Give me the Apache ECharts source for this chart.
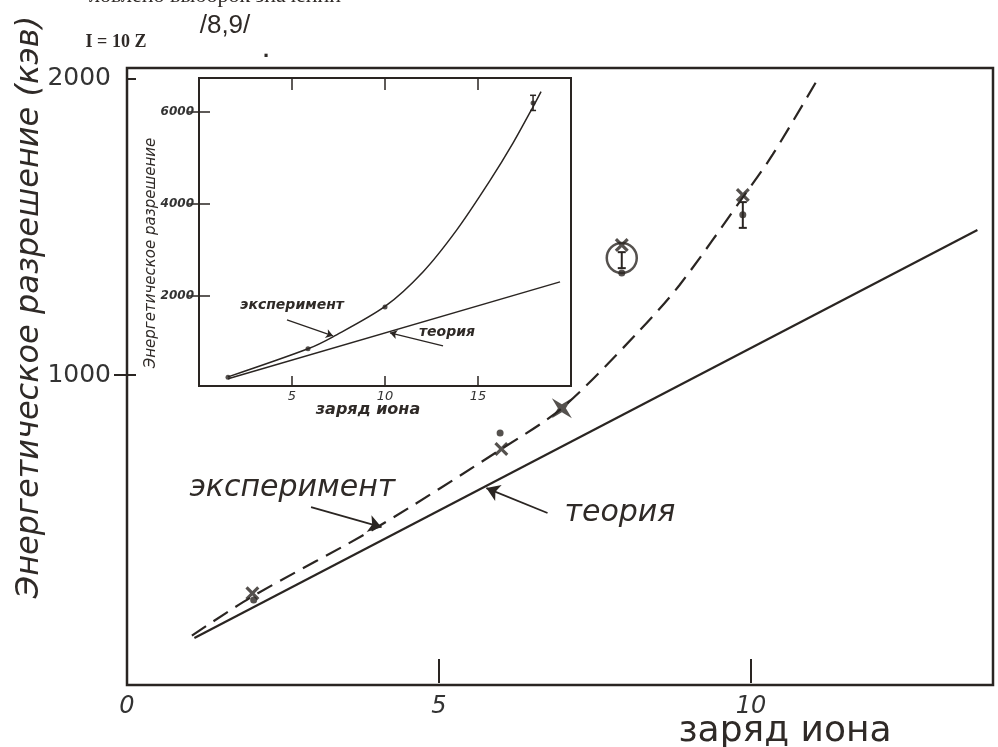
<!DOCTYPE html>
<html><head><meta charset="utf-8">
<script src="https://cdn.jsdelivr.net/npm/echarts@6/dist/echarts.min.js"></script>
<style>html,body{margin:0;padding:0;background:#fff}#c{width:998px;height:747px}</style>
</head><body><div id="c"></div>
<script>
// ---------- main chart data ----------
const theoryZ = [1.08, 13.63];
const theoryE = [112, 1490];
const expZ = [1.04, 2.01, 4.04, 6.0, 6.97, 8.17, 8.86, 9.87, 10.35, 11.08];
const expE = [120, 252, 490, 750, 888, 1140, 1305, 1600, 1745, 2003];
const crossZ = [2.01, 6.0, 7.93, 9.87];
const crossE = [263, 750, 1439, 1608];
const dotZ = [2.03, 5.98, 7.93, 9.87];
const dotE = [240, 804, 1345, 1541];
const starZ = [6.97];
const starE = [888];
const ringZ = [7.93];
const ringE = [1395];
const errZ = [7.93, 9.87];
const errLo = [1361, 1497];
const errHi = [1415, 1584];
const mainXLabels = [0, 5, 10];
const mainXTicks = [5, 10];
const mainYLabels = [1000, 2000];
// ---------- inset data ----------
const inTheoryZ = [1.56, 19.41];
const inTheoryE = [196, 2304];
const inExpZ = [1.56, 5.86, 7.2, 10.0, 12.04, 13.87, 15.65, 16.88, 17.96, 18.39];
const inExpE = [239, 850, 1110, 1770, 2520, 3440, 4510, 5320, 6110, 6440];
const inDotZ = [1.56, 5.86, 10.0, 17.96];
const inDotE = [230, 848, 1755, 6190];
const inErrZ = [17.96];
const inErrLo = [6030];
const inErrHi = [6360];
const inXTicks = [5, 10, 15];
const inYTicks = [2000, 4000, 6000];
// ---------- annotations (data coordinates) ----------
const mainNoteText = ['эксперимент', 'теория'];
const mainNoteAt = [[2.65, 618], [7.9, 534]];
const mainArrows = [[[2.95, 554], [4.08, 486]], [[6.74, 534], [5.76, 618]]];
const inNoteText = ['эксперимент', 'теория'];
const inNoteAt = [[5.0, 1783], [13.33, 1196]];
const inArrows = [[[4.73, 1478], [7.2, 1130]], [[13.12, 913], [10.27, 1196]]];

const INK = '#2a2522';
const zip = (a, b) => a.map((v, i) => [v, b[i]]);
const XPATH = 'path://M0,1.6L1.6,0L5,3.4L8.4,0L10,1.6L6.6,5L10,8.4L8.4,10L5,6.6L1.6,10L0,8.4L3.4,5Z';
const STAR = 'path://M0,0L10,6L20,0L14,10L20,20L10,14L0,20L6,10Z';
const plain = v => String(v);

function errItem(params, api) {
  const x = api.value(0), lo = api.value(1), hi = api.value(2);
  const a = api.coord([x, lo]), b = api.coord([x, hi]);
  const small = params.seriesName === 'inErr';
  const w = small ? 3 : 4;
  const st = { stroke: INK, lineWidth: small ? 1.5 : 2 };
  return { type: 'group', children: [
    { type: 'line', shape: { x1: a[0], y1: a[1], x2: b[0], y2: b[1] }, style: st },
    { type: 'line', shape: { x1: a[0] - w, y1: a[1], x2: a[0] + w, y2: a[1] }, style: st },
    { type: 'line', shape: { x1: b[0] - w, y1: b[1], x2: b[0] + w, y2: b[1] }, style: st }
  ]};
}

function arrowData(list) {
  return list.map(p => [{ coord: p[0] }, { coord: p[1] }]);
}

const chart = echarts.init(document.getElementById('c'), null, { renderer: 'canvas' });

const baseX = { type: 'value', splitLine: { show: false }, axisLine: { show: false } };

const option = {
  backgroundColor: '#ffffff',
  animation: false,
  grid: [
    { left: 127, right: 5, top: 68, bottom: 62, show: true, borderColor: INK, borderWidth: 2.5, backgroundColor: 'transparent' },
    { left: 199, right: 427, top: 78, bottom: 361, show: true, borderColor: INK, borderWidth: 2, backgroundColor: 'transparent' }
  ],
  xAxis: [
    Object.assign({}, baseX, { gridIndex: 0, position: 'bottom', min: 0, max: 13.88,
      axisTick: { show: true, inside: true, length: 12, customValues: mainXTicks, lineStyle: { color: INK, width: 2 } },
      axisLabel: { customValues: mainXLabels, formatter: plain, margin: 10, fontSize: 24, fontStyle: 'italic', fontFamily: 'DejaVu Sans', color: '#333' } }),
    Object.assign({}, baseX, { gridIndex: 0, position: 'top', min: 0, max: 13.88,
      axisTick: { show: true, inside: true, length: 12, customValues: mainXTicks, lineStyle: { color: INK, width: 2 } },
      axisLabel: { show: false } }),
    Object.assign({}, baseX, { gridIndex: 1, position: 'bottom', min: 0, max: 20,
      axisTick: { show: true, inside: true, length: 10, customValues: inXTicks, lineStyle: { color: INK, width: 1.5 } },
      axisLabel: { customValues: inXTicks, formatter: plain, margin: 4, fontSize: 13, fontStyle: 'italic', fontFamily: 'DejaVu Sans', color: '#333' } }),
    Object.assign({}, baseX, { gridIndex: 1, position: 'top', min: 0, max: 20,
      axisTick: { show: true, inside: true, length: 12, customValues: inXTicks, lineStyle: { color: INK, width: 1.5 } },
      axisLabel: { show: false } })
  ],
  yAxis: [
    Object.assign({}, baseX, { gridIndex: 0, position: 'left', min: -47, max: 2037,
      axisTick: { show: true, inside: true, length: 9, customValues: mainYLabels, lineStyle: { color: INK, width: 2 } },
      axisLabel: { customValues: mainYLabels, formatter: plain, margin: 16, fontSize: 25, fontFamily: 'DejaVu Sans', color: '#333' } }),
    Object.assign({}, baseX, { gridIndex: 0, position: 'right', min: -47, max: 2037,
      axisTick: { show: true, inside: true, length: 13, customValues: [1000], lineStyle: { color: INK, width: 2 } },
      axisLabel: { show: false } }),
    Object.assign({}, baseX, { gridIndex: 1, position: 'left', min: 40, max: 6736,
      axisTick: { show: true, inside: true, length: 11, customValues: inYTicks, lineStyle: { color: INK, width: 1.5 } },
      axisLabel: { customValues: inYTicks, formatter: plain, margin: 5, fontSize: 12, fontStyle: 'italic', fontWeight: 'bold', fontFamily: 'DejaVu Sans', color: '#333' } }),
    Object.assign({}, baseX, { gridIndex: 1, position: 'right', min: 40, max: 6736,
      axisTick: { show: true, inside: true, length: 11, customValues: inYTicks, lineStyle: { color: INK, width: 1.5 } },
      axisLabel: { show: false } })
  ],
  series: [
    { name: 'theory', type: 'line', xAxisIndex: 0, yAxisIndex: 0, data: zip(theoryZ, theoryE), showSymbol: false,
      lineStyle: { color: INK, width: 2.2 },
      markLine: { silent: true, symbol: ['none', 'arrow'], symbolSize: 13, label: { show: false },
        lineStyle: { color: INK, width: 1.8, type: 'solid' }, data: arrowData(mainArrows) } },
    { name: 'experiment', type: 'line', xAxisIndex: 0, yAxisIndex: 0, data: zip(expZ, expE), showSymbol: false,
      smooth: 0.3,
      lineStyle: { color: INK, width: 2.2, type: [17, 9] } },
    { name: 'cross', type: 'scatter', xAxisIndex: 0, yAxisIndex: 0, data: zip(crossZ, crossE), symbol: XPATH, symbolSize: 14,
      itemStyle: { color: INK } },
    { name: 'dot', type: 'scatter', xAxisIndex: 0, yAxisIndex: 0, data: zip(dotZ, dotE), symbol: 'circle', symbolSize: 7,
      itemStyle: { color: INK } },
    { name: 'star', type: 'scatter', xAxisIndex: 0, yAxisIndex: 0, data: zip(starZ, starE), symbol: STAR, symbolSize: 20,
      itemStyle: { color: INK } },
    { name: 'ring', type: 'scatter', xAxisIndex: 0, yAxisIndex: 0, data: zip(ringZ, ringE), symbol: 'circle', symbolSize: 30,
      itemStyle: { color: 'rgba(0,0,0,0)', borderColor: INK, borderWidth: 2.5 } },
    { name: 'err', type: 'custom', xAxisIndex: 0, yAxisIndex: 0, renderItem: errItem,
      encode: { x: 0, y: [1, 2] }, data: errZ.map((z, i) => [z, errLo[i], errHi[i]]) },
    { name: 'inTheory', type: 'line', xAxisIndex: 2, yAxisIndex: 2, data: zip(inTheoryZ, inTheoryE), showSymbol: false,
      lineStyle: { color: INK, width: 1.5 },
      markLine: { silent: true, symbol: ['none', 'arrow'], symbolSize: 7, label: { show: false },
        lineStyle: { color: INK, width: 1.2, type: 'solid' }, data: arrowData(inArrows) } },
    { name: 'inExp', type: 'line', xAxisIndex: 2, yAxisIndex: 2, data: zip(inExpZ, inExpE), showSymbol: false,
      smooth: 0.3,
      lineStyle: { color: INK, width: 1.5 } },
    { name: 'inDot', type: 'scatter', xAxisIndex: 2, yAxisIndex: 2, data: zip(inDotZ, inDotE), symbol: 'circle', symbolSize: 5,
      itemStyle: { color: INK } },
    { name: 'inErr', type: 'custom', xAxisIndex: 2, yAxisIndex: 2, renderItem: errItem,
      encode: { x: 0, y: [1, 2] }, data: inErrZ.map((z, i) => [z, inErrLo[i], inErrHi[i]]) }
  ]
};
chart.setOption(option);

const g = [];
const txt = (x, y, text, font, extra) => Object.assign({ type: 'text', x: x, y: y, z: 10,
  style: { text: text, font: font, fill: '#2f2a27', align: 'center', verticalAlign: 'middle' } }, extra || {});
// header fragments (top line is cut by the page edge)
g.push(txt(215, -4, 'ловлено выборок значений', '22px "Liberation Serif"'));
g.push(txt(116, 42, 'I = 10 Z', 'bold 18px "Liberation Serif"'));
g.push(txt(225, 26, '/8,9/', '26px "Liberation Sans"'));
g.push(txt(266, 51, '.', 'bold 22px "Liberation Sans"'));
// axis titles
g.push(txt(30, 307, 'Энергетическое разрешение (кэв)', 'italic 32px "DejaVu Sans"', { rotation: Math.PI / 2 }));
g.push(txt(785, 732, 'заряд иона', '36px "DejaVu Sans"'));
g.push(txt(151, 253, 'Энергетическое разрешение', 'italic 15px "DejaVu Sans"', { rotation: Math.PI / 2 }));
g.push(txt(368, 410, 'заряд иона', 'italic bold 16px "DejaVu Sans"'));
// annotations
mainNoteText.forEach((t, i) => {
  const p = chart.convertToPixel({ xAxisIndex: 0, yAxisIndex: 0 }, mainNoteAt[i]);
  g.push(txt(p[0], p[1], t, 'italic 30px "DejaVu Sans"'));
});
inNoteText.forEach((t, i) => {
  const p = chart.convertToPixel({ xAxisIndex: 2, yAxisIndex: 2 }, inNoteAt[i]);
  g.push(txt(p[0], p[1], t, 'italic bold 14px "DejaVu Sans"'));
});
chart.setOption({ graphic: g });
</script></body></html>
